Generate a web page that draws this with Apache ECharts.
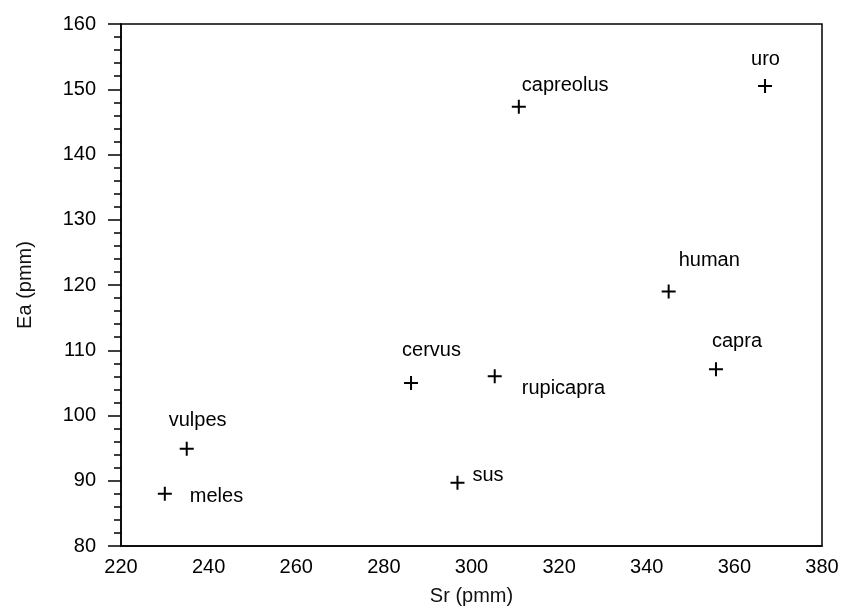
<!DOCTYPE html>
<html>
<head>
<meta charset="utf-8">
<script src="https://cdn.jsdelivr.net/npm/echarts@6/dist/echarts.min.js"></script>
<style>html,body{margin:0;padding:0;background:#fff;}#c{width:844px;height:607px;}</style>
</head>
<body>
<div id="c"></div>
<script>
const names = ['capreolus','uro','human','capra','cervus','rupicapra','vulpes','meles','sus'];
const sr = [310.8, 367.0, 345.0, 355.8, 286.2, 305.3, 235.0, 230.0, 296.8];
const ea = [147.3, 150.5, 119.0, 107.1, 105.0, 106.0, 94.9, 88.0, 89.7];
const xTicks = [220, 240, 260, 280, 300, 320, 340, 360, 380];
const yTicks = [80, 90, 100, 110, 120, 130, 140, 150, 160];

// label placement (layout only): [dx, dy] from point, in px
const labelOffsets = {
  capreolus: [3, -21], uro: [-14, -27], human: [10, -31], capra: [-4, -28],
  cervus: [-9, -32], rupicapra: [27, 12], vulpes: [-18, -28], meles: [25, 3], sus: [15, -7]
};

const font = 'Liberation Sans, Arial, Helvetica, sans-serif';
const plus = 'path://M6,0h2v14h-2z M0,6h14v2h-14z';

const data = names.map((n, i) => ({
  value: [sr[i], ea[i]],
  name: n,
  label: { offset: labelOffsets[n] }
}));

const chart = echarts.init(document.getElementById('c'));
chart.setOption({
  animation: false,
  backgroundColor: '#fff',
  grid: { left: 121, right: 22, top: 24, bottom: 61, outerBoundsMode: 'none', containLabel: false,
    show: true, borderColor: '#000', borderWidth: 1.5 },
  xAxis: {
    type: 'value', min: 220, max: 380, interval: 20,
    name: 'Sr (pmm)', nameLocation: 'middle', nameGap: 40,
    nameTextStyle: { fontFamily: font, fontSize: 20, color: '#111' },
    axisLine: { show: true, lineStyle: { color: '#000', width: 1.5 } },
    axisTick: { show: false },
    splitLine: { show: false },
    axisLabel: { margin: 11, fontFamily: font, fontSize: 20, color: '#000',
      formatter: v => xTicks.includes(v) ? String(v) : '' }
  },
  yAxis: {
    type: 'value', min: 80, max: 160, interval: 10,
    name: 'Ea (pmm)', nameLocation: 'middle', nameGap: 86, nameRotate: 90,
    nameTextStyle: { fontFamily: font, fontSize: 20, color: '#111' },
    axisLine: { show: true, lineStyle: { color: '#000', width: 1.5 } },
    axisTick: { show: true, inside: false, length: 13, lineStyle: { color: '#000', width: 1.5 } },
    minorTick: { show: true, splitNumber: 5, length: 7, lineStyle: { color: '#000', width: 1.5 } },
    splitLine: { show: false },
    axisLabel: { margin: 25, fontFamily: font, fontSize: 20, color: '#000',
      formatter: v => yTicks.includes(v) ? String(v) : '' }
  },
  series: [{
    type: 'scatter',
    symbol: plus,
    symbolSize: 14,
    itemStyle: { color: '#000', opacity: 1 },
    data: data,
    label: {
      show: true, position: 'inside', align: 'left', verticalAlign: 'middle',
      formatter: p => p.name, opacity: 1, textBorderWidth: 0,
      fontFamily: font, fontSize: 20, color: '#000'
    }
  }]
});
</script>
</body>
</html>
